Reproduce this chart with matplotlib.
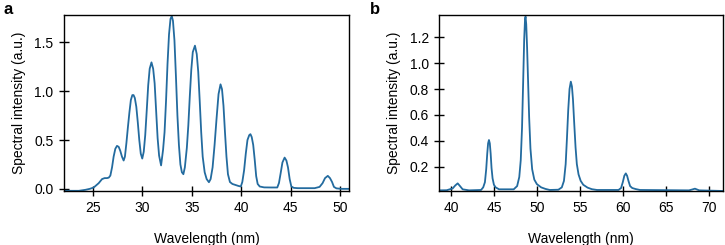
import matplotlib
matplotlib.use("Agg")
import matplotlib.pyplot as plt

plt.rcParams['font.family'] = ['Liberation Sans', 'DejaVu Sans']

# Panel a: spectral intensity vs wavelength (nm)
wl_a = [22.1, 23.0, 23.6, 24.26, 24.7, 25.1, 25.6, 25.94, 26.2, 26.44, 26.62,
        26.78, 26.95, 27.11, 27.28, 27.45, 27.62, 27.78, 27.95, 28.12,
        28.25, 28.4, 28.55, 28.7, 28.85, 29.0, 29.12, 29.25, 29.4, 29.55, 29.7, 29.85, 30.0,
        30.15, 30.3, 30.45, 30.6, 30.75, 30.93, 31.1, 31.25, 31.4, 31.55, 31.7, 31.9,
        32.1, 32.25, 32.4, 32.55, 32.7, 32.85, 32.98, 33.1, 33.25, 33.4, 33.55, 33.7, 33.85, 34.0, 34.15,
        34.3, 34.5, 34.65, 34.8, 34.95, 35.1, 35.32, 35.5, 35.65, 35.8, 35.95, 36.1, 36.3, 36.5, 36.73,
        36.9, 37.1, 37.3, 37.5, 37.7, 37.9, 38.05, 38.2, 38.35, 38.5, 38.65, 38.85, 39.1, 39.4, 39.7, 39.95,
        40.1, 40.28, 40.45, 40.62, 40.8, 40.92, 41.05, 41.2, 41.35, 41.5, 41.65, 41.86, 42.3,
        43.0, 43.63, 43.8, 43.97, 44.15, 44.37, 44.55, 44.71, 44.88, 45.05, 45.3, 45.7,
        47.4, 47.9, 48.2, 48.45, 48.73, 48.95, 49.16, 49.35, 49.6, 50.1, 50.9]
int_a = [-0.02, -0.02, -0.02, -0.01, 0.0, 0.014, 0.058, 0.10, 0.11, 0.11, 0.115,
         0.136, 0.22, 0.33, 0.41, 0.44, 0.43, 0.39, 0.33, 0.29,
         0.33, 0.47, 0.63, 0.78, 0.91, 0.96, 0.96, 0.93, 0.84, 0.68, 0.50, 0.36, 0.31,
         0.38, 0.55, 0.80, 1.06, 1.23, 1.295, 1.23, 1.08, 0.80, 0.52, 0.34, 0.24,
         0.40, 0.58, 0.90, 1.28, 1.58, 1.74, 1.77, 1.72, 1.52, 1.15, 0.75, 0.45, 0.25, 0.17, 0.15,
         0.22, 0.42, 0.65, 0.95, 1.22, 1.40, 1.466, 1.38, 1.20, 0.90, 0.58, 0.33, 0.17, 0.10, 0.068,
         0.10, 0.22, 0.45, 0.72, 0.97, 1.07, 1.02, 0.85, 0.58, 0.33, 0.15, 0.07, 0.05, 0.04, 0.03, 0.024,
         0.07, 0.19, 0.36, 0.50, 0.55, 0.56, 0.53, 0.45, 0.30, 0.13, 0.05, 0.024, 0.015,
         0.014, 0.014, 0.06, 0.16, 0.27, 0.32, 0.29, 0.22, 0.10, 0.024, 0.01, 0.007,
         0.007, 0.02, 0.058, 0.11, 0.133, 0.11, 0.07, 0.02, 0.005, 0.0, 0.0]

# Panel b
wl_b = [38.64, 39.5, 40.2, 40.5, 40.78, 41.05, 41.36, 42.1,
        43.5, 43.75, 43.95, 44.1, 44.22, 44.32, 44.42, 44.52, 44.62, 44.72, 44.84, 45.0, 45.2, 45.6,
        47.3, 47.7, 47.95, 48.12, 48.27, 48.4, 48.52, 48.62, 48.68, 48.76, 48.86, 48.98, 49.1, 49.25,
        49.45, 49.7, 50.0, 50.5, 51.0, 51.5,
        52.5, 52.9, 53.15, 53.35, 53.5, 53.65, 53.8, 53.95, 54.08, 54.2, 54.35, 54.5, 54.65, 54.85,
        55.1, 55.4, 55.9, 56.4, 57.0,
        59.5, 59.8, 60.0, 60.18, 60.35, 60.5, 60.66, 60.85, 61.1, 61.5, 62.0,
        67.7, 68.1, 68.4, 68.7, 68.9, 71.8]
int_b = [0.017, 0.018, 0.032, 0.055, 0.071, 0.05, 0.025, 0.017,
         0.02, 0.04, 0.08, 0.18, 0.30, 0.38, 0.406, 0.38, 0.30, 0.19, 0.11, 0.06, 0.04, 0.025,
         0.025, 0.05, 0.12, 0.25, 0.50, 0.85, 1.18, 1.34, 1.36, 1.30, 1.12, 0.85, 0.58, 0.34,
         0.18, 0.10, 0.065, 0.04, 0.028, 0.02,
         0.022, 0.04, 0.09, 0.22, 0.42, 0.64, 0.80, 0.857, 0.82, 0.72, 0.53, 0.35, 0.22, 0.14,
         0.09, 0.06, 0.038, 0.026, 0.02,
         0.02, 0.035, 0.08, 0.13, 0.148, 0.13, 0.09, 0.05, 0.035, 0.027, 0.02,
         0.017, 0.024, 0.03, 0.022, 0.017, 0.012]

xticks_a = [25, 30, 35, 40, 45, 50]
yticks_a = [0.0, 0.5, 1.0, 1.5]
xticks_b = [40, 45, 50, 55, 60, 65, 70]
yticks_b = [0.2, 0.4, 0.6, 0.8, 1.0, 1.2]

color = '#236b9f'

fig = plt.figure(figsize=(7.25, 2.45), dpi=100)
ax_a = fig.add_axes([64 / 725, 1 - 191 / 245, 285.3 / 725, 176 / 245])
ax_b = fig.add_axes([439.3 / 725, 1 - 191 / 245, 284 / 725, 176 / 245])

for ax, x, y, xt, yt, xl, yl, fmt in [
        (ax_a, wl_a, int_a, xticks_a, yticks_a, (22.1, 50.9), (-0.022, 1.78), '{:.1f}'),
        (ax_b, wl_b, int_b, xticks_b, yticks_b, (38.64, 71.7), (0.012, 1.372), '{:.1f}')]:
    ax.plot(x, y, color=color, lw=1.3, solid_joinstyle='round')
    ax.set_xlim(*xl)
    ax.set_ylim(*yl)
    ax.set_xticks(xt)
    ax.set_xticklabels([str(v) for v in xt])
    ax.set_yticks(yt)
    ax.set_yticklabels([fmt.format(v) for v in yt])
    ax.tick_params(direction='inout', length=7, width=1, labelsize=10, colors='black', pad=4)
    for s in ax.spines.values():
        s.set_linewidth(1.0)
    ax.set_xlabel('Wavelength (nm)', fontsize=10, labelpad=12)
    ax.set_ylabel('Spectral intensity (a.u.)', fontsize=10, labelpad=6)

fig.text(4 / 725, 1 - 9 / 245, 'a', fontsize=12, fontweight='bold', va='center', ha='left')
fig.text(370 / 725, 1 - 9 / 245, 'b', fontsize=12, fontweight='bold', va='center', ha='left')

fig.savefig('out.png', dpi=100)
